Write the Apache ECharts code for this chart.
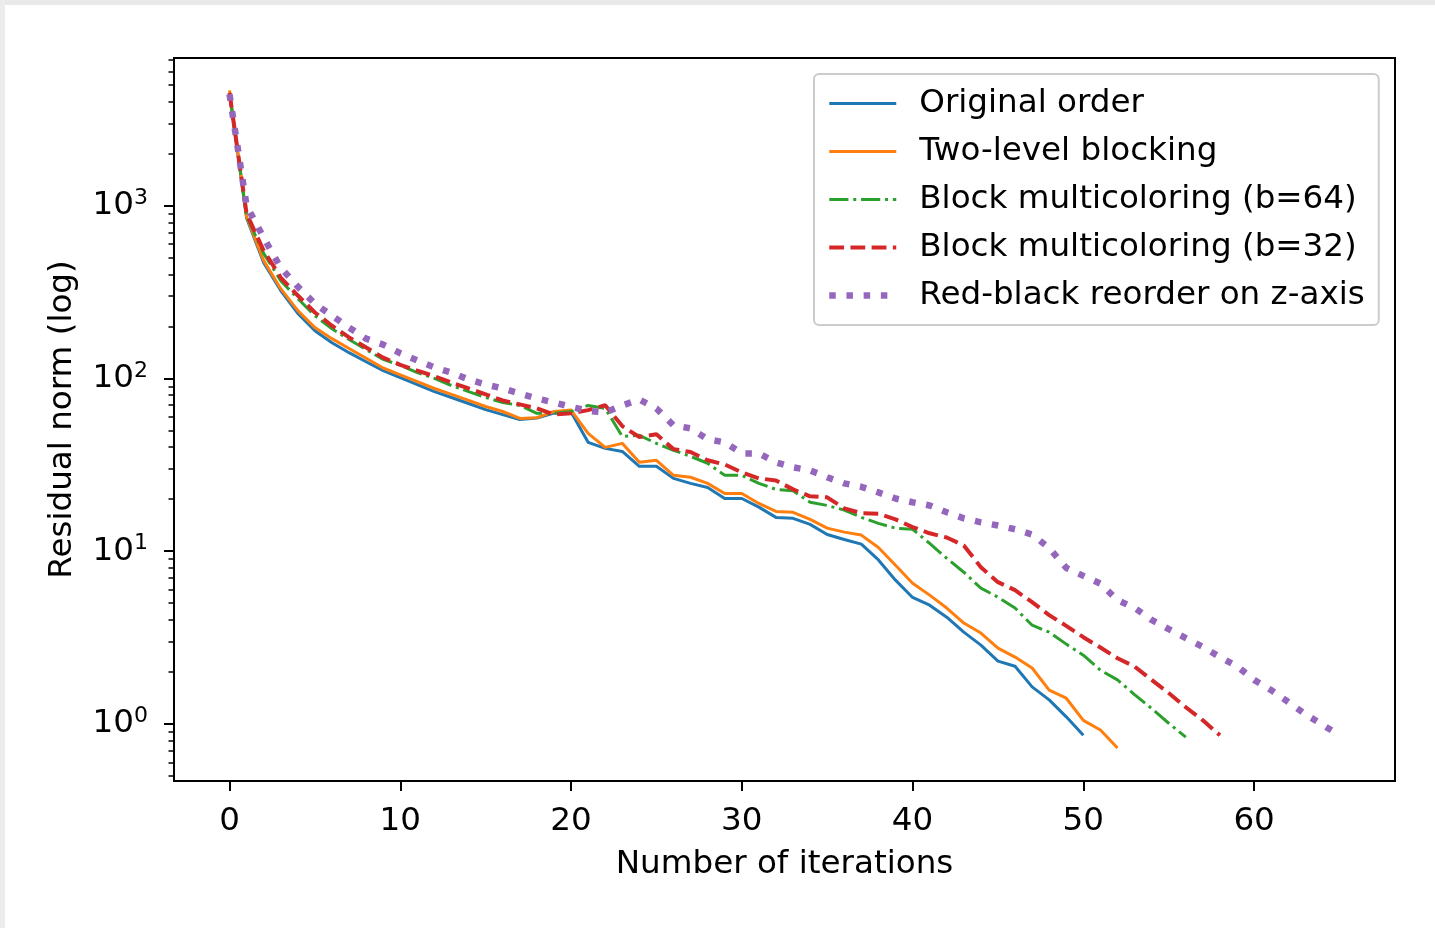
<!DOCTYPE html>
<html>
<head>
<meta charset="utf-8">
<script src="https://cdn.jsdelivr.net/npm/echarts@6/dist/echarts.min.js"></script>
<style>
  html, body { margin: 0; padding: 0; background: #fff; }
  #root { width: 1435px; height: 928px; }
</style>
</head>
<body>
<div id="root"></div>
<script>
// residual norm per iteration
const names = [
  'Original order',
  'Two-level blocking',
  'Block multicoloring (b=64)',
  'Block multicoloring (b=32)',
  'Red-black reorder on z-axis'
]
const original = [4500, 850, 468, 323, 238, 189, 161, 141, 125, 111, 101, 92, 84, 77.6, 71.6, 66, 61.8, 57.8, 59, 63,
  64, 42.7, 39.4, 37.8, 31, 31, 26.4, 24.7, 23.4, 20.2, 20.2, 18.0, 15.7, 15.5, 14.3, 12.5, 11.7, 11.0, 8.9, 6.8,
  5.4, 4.87, 4.15, 3.40, 2.86, 2.31, 2.16, 1.64, 1.38, 1.10, 0.86]
const twoLevel = [4650, 863, 481, 331, 247, 197, 170, 149, 131, 115, 105, 96, 87.5, 80.9, 74.6, 68.8, 64.4, 58.7, 59.3, 64.4,
  65.6, 48.1, 39.9, 42.1, 32.7, 33.6, 27.5, 26.8, 24.7, 21.6, 21.6, 18.9, 17.0, 16.8, 15.3, 13.6, 12.9, 12.4, 10.5, 8.3,
  6.53, 5.57, 4.69, 3.84, 3.36, 2.75, 2.44, 2.11, 1.57, 1.41, 1.05, 0.923, 0.727]
const block64 = [4500, 870, 530, 368, 290, 231, 194, 168, 147, 129, 119, 108, 100, 91, 84, 77.6, 72.6, 69.8, 62.8, 62.8,
  64.4, 69.8, 67.1, 46.2, 46.9, 42.1, 38.4, 35.4, 32.3, 27.5, 27.5, 24.7, 22.8, 22.4, 19.2, 18.4, 17.3, 15.7, 14.5, 13.6,
  13.4, 11.1, 9.1, 7.56, 6.11, 5.42, 4.69, 3.73, 3.40, 2.9, 2.5, 2.05, 1.8, 1.48, 1.23, 1.01, 0.84]
const block32 = [4500, 900, 550, 384, 302, 241, 202, 173, 151, 132, 120, 111, 103, 94.8, 87.5, 80.9, 74.6, 70.8, 67.1, 61.9,
  62.8, 65.6, 70, 53, 45.8, 47.5, 39, 37.5, 33.6, 31.8, 28.6, 26.4, 25.7, 22.8, 20.8, 20.5, 17.7, 16.6, 16.5, 15.3,
  13.8, 12.7, 12.0, 10.8, 8.08, 6.62, 5.95, 5.07, 4.27, 3.7, 3.18, 2.77, 2.4, 2.15, 1.80, 1.51, 1.25, 1.05, 0.86]
const redBlack = [4420, 1000, 653, 438, 340, 271, 231, 197, 170, 157, 140, 127, 116, 108, 98.7, 92.3, 87.5, 81.9, 76.6, 72.6,
  68.5, 65, 63.6, 69.8, 75.5, 67, 53.5, 51.4, 44.4, 42.7, 36.8, 36.8, 32.7, 30.6, 29.4, 26.8, 24.7, 23.6, 21.9, 20.2,
  19.2, 18.4, 16.8, 15.5, 14.7, 14.1, 13.4, 12.5, 10.45, 8.0, 7.2, 6.5, 5.21, 4.7, 4.0, 3.54, 3.14, 2.79, 2.44, 2.16,
  1.80, 1.57, 1.34, 1.14, 0.99, 0.86]

const xTicks = [0, 10, 20, 30, 40, 50, 60]
const yDecades = [0, 1, 2, 3]

const font = 'DejaVu Sans'
const fs = 32.6
const yMin = -0.33
const yMax = 3.855

const yMinor = []
for (let n = -1; n <= 3; n++) {
  for (let k = 2; k <= 9; k++) {
    const v = Math.log10(k * Math.pow(10, n))
    if (v > yMin && v < yMax) yMinor.push(v)
  }
}

const toPoints = arr => arr.map((v, i) => [i, Math.log10(v)])

const chart = echarts.init(document.getElementById('root'), null, { renderer: 'canvas' })

const option = {
  animation: false,
  backgroundColor: '#fff',
  textStyle: { fontFamily: font },
  graphic: [
    { type: 'rect', left: 0, top: 0, shape: { width: 1435, height: 5 }, style: { fill: '#e9e9e9' }, z: -1 },
    { type: 'rect', left: 0, top: 0, shape: { width: 5, height: 928 }, style: { fill: '#ececec' }, z: -1 }
  ],
  grid: {
    left: 174, right: 40, top: 58, bottom: 147,
    show: true, borderColor: '#000', borderWidth: 2, backgroundColor: 'transparent'
  },
  legend: {
    orient: 'vertical',
    left: 814, top: 74,
    padding: [13, 14, 13, 12],
    itemWidth: 67, itemHeight: 14, itemGap: 15,
    backgroundColor: '#fff',
    borderColor: '#cccccc', borderWidth: 2, borderRadius: 5,
    itemStyle: { opacity: 0 },
    lineStyle: { width: 'inherit' },
    textStyle: { fontSize: fs, fontFamily: font, color: '#000', padding: [0, 0, 0, 18] },
    data: names
  },
  xAxis: {
    type: 'value',
    min: -3.25, max: 68.25,
    axisLine: { show: false, onZero: false },
    splitLine: { show: false },
    axisTick: { show: true, customValues: xTicks, length: 10, lineStyle: { color: '#000', width: 2 } },
    axisLabel: { customValues: xTicks, margin: 24, fontSize: fs, fontFamily: font, color: '#000' },
    name: 'Number of iterations',
    nameLocation: 'middle',
    nameGap: 67,
    nameTextStyle: { fontSize: fs, fontFamily: font, color: '#000' }
  },
  yAxis: [
    {
      type: 'value',
      min: yMin, max: yMax,
      axisLine: { show: false, onZero: false },
      splitLine: { show: false },
      axisTick: { show: true, customValues: yDecades, length: 10, lineStyle: { color: '#000', width: 2 } },
      axisLabel: {
        customValues: yDecades,
        margin: 26,
        formatter: v => '{b|10}{s|' + Math.round(v) + '}',
        rich: {
          b: { fontSize: fs, fontFamily: font, color: '#000' },
          s: { fontSize: 22, fontFamily: font, color: '#000', padding: [0, 0, 15, 0] }
        }
      },
      name: 'Residual norm (log)',
      nameLocation: 'middle',
      nameGap: 95,
      nameTextStyle: { fontSize: fs, fontFamily: font, color: '#000' }
    },
    {
      type: 'value',
      min: yMin, max: yMax,
      position: 'left',
      axisLine: { show: false, onZero: false },
      splitLine: { show: false },
      axisTick: { show: true, customValues: yMinor, length: 5.5, lineStyle: { color: '#000', width: 1.5 } },
      axisLabel: { show: false }
    }
  ],
  series: [
    {
      name: names[0], type: 'line', symbol: 'none', data: toPoints(original),
      lineStyle: { color: '#1f77b4', width: 3, join: 'round' }, itemStyle: { color: '#1f77b4' }
    },
    {
      name: names[1], type: 'line', symbol: 'none', data: toPoints(twoLevel),
      lineStyle: { color: '#ff7f0e', width: 3, join: 'round' }, itemStyle: { color: '#ff7f0e' }
    },
    {
      name: names[2], type: 'line', symbol: 'none', data: toPoints(block64),
      lineStyle: { color: '#2ca02c', width: 3, type: [19.2, 4.8, 3, 4.8] }, itemStyle: { color: '#2ca02c' }
    },
    {
      name: names[3], type: 'line', symbol: 'none', data: toPoints(block32),
      lineStyle: { color: '#d62728', width: 4, type: [14.8, 6.4] }, itemStyle: { color: '#d62728' }
    },
    {
      name: names[4], type: 'line', symbol: 'none', data: toPoints(redBlack),
      lineStyle: { color: '#9467bd', width: 6.5, type: [6.5, 10.7] }, itemStyle: { color: '#9467bd' }
    }
  ]
}

chart.setOption(option)
</script>
</body>
</html>
